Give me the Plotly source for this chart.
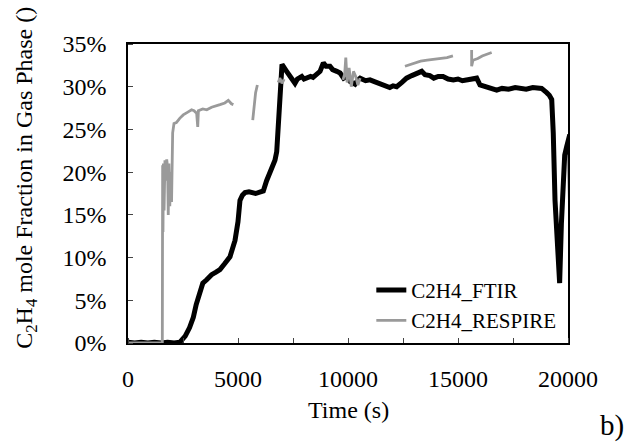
import plotly.graph_objects as go

# C2H4_FTIR (time s, mole fraction %)
ftir_t = [0, 300, 600, 900, 1200, 1500, 1800, 2100, 2360, 2600, 2800, 2970, 3100, 3250, 3400, 3576,
          3800, 4000, 4180, 4400, 4636, 4864, 5000, 5090, 5200, 5318, 5500, 5800, 6000, 6150, 6300,
          6450, 6530, 6680, 6760, 6830, 6900, 7000, 7210, 7350, 7590, 7700, 7900, 8000, 8190, 8300,
          8410, 8580, 8730, 8880, 9000, 9180, 9300, 9490, 9640, 9800, 9940, 10100, 10320, 10450,
          10550, 10800, 11000, 11200, 11450, 11700, 11900, 12050, 12210, 12450, 12660, 12900, 13100,
          13350, 13500, 13720, 13900, 14100, 14320, 14550, 14790, 15000, 15200, 15400, 15600, 15850,
          16000, 16200, 16500, 16760, 17000, 17300, 17600, 17820, 18100, 18400, 18580, 18800, 19030,
          19150, 19260, 19330, 19410, 19500, 19620, 19700, 19790, 19850, 19940, 20080, 20120]
ftir_v = [0.1, 0.0, 0.1, 0.0, 0.1, 0.0, 0.1, 0.0, 0.1, 0.8, 1.8, 3.0, 4.5, 6.0, 7.0, 7.4,
          8.0, 8.3, 8.6, 9.3, 10.1, 12.0, 14.2, 16.7, 17.3, 17.6, 17.7, 17.5, 17.6, 17.8, 19.0,
          19.9, 20.4, 21.4, 22.4, 25.5, 30.0, 32.6, 31.8, 31.2, 30.4, 30.9, 31.2, 30.9, 31.0, 31.2,
          31.1, 31.4, 31.8, 32.8, 32.4, 32.4, 32.0, 31.8, 31.6, 31.0, 31.2, 30.6, 30.3, 30.8,
          31.0, 30.7, 30.8, 30.6, 30.4, 30.2, 29.9, 30.1, 30.0, 30.5, 31.0, 31.3, 31.5,
          31.8, 31.4, 31.3, 31.0, 31.2, 31.2, 30.9, 30.8, 30.9, 30.7, 30.8, 30.9, 31.0,
          30.2, 30.0, 29.8, 29.6, 29.8, 29.7, 29.9, 29.8, 29.7, 29.9, 29.8, 29.8, 29.3,
          29.0, 28.5, 24.6, 16.7, 12.0, 7.0, 14.0, 21.4, 22.0, 23.0, 24.4, 15.0]

# C2H4_RESPIRE (gaps = None)
resp_t = [0, 1560, 1575, 1590, 1610, 1640, 1680, 1720, 1760, 1800, 1830, 1860, 1900, 1940, 1980,
          2030, 2090, 2200, 2350, 2510, 2700, 2890, 3000, 3120, 3170, 3200, 3400, 3580, 3800,
          4000, 4180, 4400, 4560, 4700, 4790, None,
          5670, 5700, 5760, 5800, 5880, None,
          6830, 6900, 7000, 7100, None,
          9770, 9850, 9900, 9960, 10050, 10150, 10250, 10350, 10450, 10550, None,
          12590, 12800, 13000, 13300, 13600, 13900, 14200, 14500, 14770, None,
          15620, 15620, 15680, 15900, 16100, 16300, 16530]
resp_v = [0.0, 0.0, 20.8, 13.0, 21.0, 15.5, 21.4, 19.0, 21.5, 20.5, 15.0, 21.0, 16.0, 20.0, 16.5,
          24.6, 25.7, 25.8, 26.3, 26.7, 27.0, 27.3, 27.2, 26.9, 25.3, 27.2, 27.4, 27.3, 27.6,
          27.8, 27.9, 28.1, 28.4, 28.0, 27.9, None,
          26.1, 27.0, 28.5, 29.3, 30.2, None,
          30.5, 31.0, 30.4, 30.9, None,
          30.8, 31.5, 33.4, 30.5, 32.2, 30.0, 31.8, 31.2, 30.2, 31.0, None,
          32.4, 32.6, 32.8, 33.0, 33.1, 33.2, 33.3, 33.4, 33.6, None,
          34.3, 32.4, 33.1, 33.3, 33.6, 33.8, 34.0]

series_names = ["C2H4_FTIR", "C2H4_RESPIRE"]
x_tickvals = [0, 5000, 10000, 15000, 20000]
x_ticktext = ["0", "5000", "10000", "15000", "20000"]
y_tickvals = [0, 5, 10, 15, 20, 25, 30, 35]
y_ticktext = ["0%", "5%", "10%", "15%", "20%", "25%", "30%", "35%"]

FONT = "Liberation Serif, Times New Roman, serif"

fig = go.Figure()
fig.add_trace(go.Scatter(x=ftir_t, y=ftir_v, mode="lines", name=series_names[0],
                         line=dict(color="black", width=5), connectgaps=False))
fig.add_trace(go.Scatter(x=resp_t, y=resp_v, mode="lines", name=series_names[1],
                         line=dict(color="#9a9a9a", width=2.8), connectgaps=False))

fig.update_layout(
    width=625, height=443,
    margin=dict(l=128, r=57, t=44, b=100),
    paper_bgcolor="white", plot_bgcolor="white",
    font=dict(family=FONT, size=24, color="black"),
    showlegend=True,
    legend=dict(x=0.553, y=0.126, xanchor="left", yanchor="middle",
                bgcolor="rgba(0,0,0,0)", font=dict(size=21, family=FONT),
                tracegroupgap=0),
    xaxis=dict(range=[0, 20000], tickmode="array", tickvals=x_tickvals, ticktext=x_ticktext,
               ticks="outside", ticklen=13, tickcolor="rgba(0,0,0,0)",
               showline=True, linecolor="black", linewidth=1.5, mirror=True,
               showgrid=False, zeroline=False,
               minor=dict(dtick=2500, ticks="inside", ticklen=5, tickcolor="#444",
                          showgrid=False),
               tickfont=dict(size=24, family=FONT)),
    yaxis=dict(range=[0, 35], tickmode="array", tickvals=y_tickvals, ticktext=y_ticktext,
               ticks="outside", ticklen=15, tickcolor="rgba(0,0,0,0)",
               showline=True, linecolor="black", linewidth=1.5, mirror=True,
               showgrid=False, zeroline=False,
               minor=dict(dtick=5, ticks="inside", ticklen=5, tickcolor="#444",
                          showgrid=False),
               tickfont=dict(size=24, family=FONT)),
)

fig.add_annotation(text="Time (s)", xref="paper", yref="paper", x=0.5, y=-0.224,
                   showarrow=False, font=dict(size=24, family=FONT), yanchor="middle")
fig.add_annotation(text="C<sub>2</sub>H<sub>4</sub> mole Fraction in Gas Phase ()",
                   xref="paper", yref="paper", x=-0.232, y=0.552, textangle=-90,
                   showarrow=False, font=dict(size=24, family=FONT),
                   xanchor="center", yanchor="middle")
fig.add_annotation(text="b)", xref="paper", yref="paper", x=1.1, y=-0.275,
                   showarrow=False, font=dict(size=29, family=FONT),
                   xanchor="center", yanchor="middle")

fig.write_html("out.html")
